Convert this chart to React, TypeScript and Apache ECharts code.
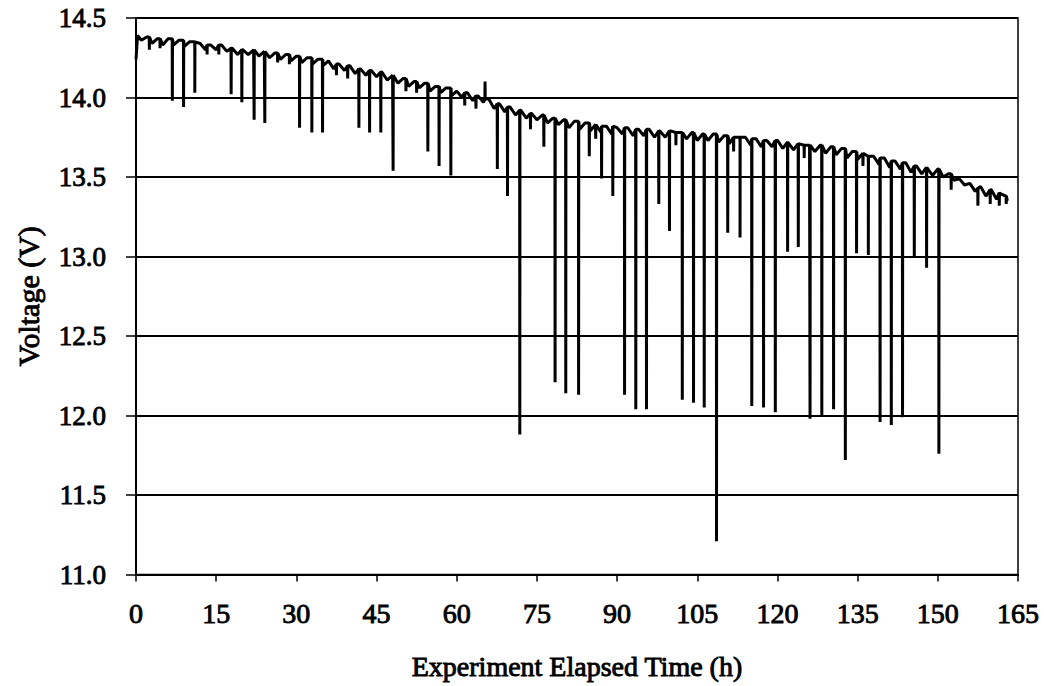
import React, { useEffect, useRef } from "react";
import * as echarts from "echarts";

// Upper trace (time h, voltage V)
const baseTimes: number[] = [
  0, 0.3, 1, 2, 3, 4, 5, 6, 7, 8, 9, 10, 11, 12, 13, 14, 15, 16, 17, 18, 19, 20,
  21, 22, 23, 24, 25, 26, 27, 28, 29, 30, 31, 32, 33, 34, 35, 36, 37, 38, 39, 40,
  41, 42, 43, 44, 45, 46, 47, 48, 49, 50, 51, 52, 53, 54, 55, 56, 57, 58, 59, 60,
  61, 62, 63, 64, 65, 66, 67, 68, 69, 70, 71, 72, 73, 74, 75, 76, 77, 78, 79, 80,
  81, 82, 83, 84, 85, 86, 87, 88, 89, 90, 91, 92, 93, 94, 95, 96, 97, 98, 99, 100,
  101, 102, 103, 104, 105, 106, 107, 108, 109, 110, 111, 112, 113, 114, 115, 116,
  117, 118, 119, 120, 121, 122, 123, 124, 125, 126, 127, 128, 129, 130, 131, 132,
  133, 134, 135, 136, 137, 138, 139, 140, 141, 142, 143, 144, 145, 146, 147, 148,
  149, 150, 151, 152, 153, 154, 155, 156, 157, 158, 159, 160, 161, 162, 163,
];
const baseVolts: number[] = [
  14.24, 14.39, 14.36, 14.38, 14.34, 14.37, 14.33, 14.37, 14.33, 14.36, 14.32, 14.35,
  14.31, 14.34, 14.30, 14.33, 14.30, 14.33, 14.29, 14.31, 14.27, 14.30, 14.27, 14.30,
  14.26, 14.29, 14.25, 14.28, 14.24, 14.27, 14.23, 14.26, 14.22, 14.25, 14.21, 14.24,
  14.20, 14.23, 14.18, 14.21, 14.17, 14.20, 14.15, 14.18, 14.14, 14.17, 14.13, 14.16,
  14.11, 14.14, 14.09, 14.12, 14.07, 14.10, 14.06, 14.09, 14.04, 14.07, 14.03, 14.06,
  14.01, 14.04, 14.00, 14.03, 13.98, 14.01, 13.97, 13.99, 13.93, 13.96, 13.91, 13.94,
  13.89, 13.92, 13.87, 13.90, 13.86, 13.89, 13.84, 13.87, 13.83, 13.86, 13.81, 13.85,
  13.80, 13.84, 13.79, 13.83, 13.78, 13.82, 13.77, 13.81, 13.77, 13.81, 13.76, 13.80,
  13.76, 13.80, 13.75, 13.79, 13.75, 13.79, 13.74, 13.78, 13.74, 13.78, 13.73, 13.77,
  13.73, 13.77, 13.72, 13.76, 13.71, 13.75, 13.71, 13.75, 13.70, 13.74, 13.69, 13.73,
  13.69, 13.73, 13.68, 13.72, 13.67, 13.71, 13.66, 13.70, 13.66, 13.70, 13.65, 13.69,
  13.64, 13.68, 13.62, 13.66, 13.61, 13.65, 13.59, 13.63, 13.58, 13.62, 13.56, 13.60,
  13.55, 13.59, 13.53, 13.57, 13.52, 13.56, 13.51, 13.55, 13.50, 13.52, 13.48, 13.49,
  13.45, 13.46, 13.41, 13.44, 13.38, 13.42, 13.36, 13.39, 13.35,
];

// Load dips: time, lowest voltage, voltage just before the dip
const spikeTimes: number[] = [
  2.5, 4.5, 6.8, 8.9, 11.0, 13.3, 15.5, 17.8, 19.8, 22.1, 24.1, 26.5, 28.7, 30.6,
  32.9, 34.9, 37.5, 39.6, 41.7, 43.7, 45.8, 48.1, 50.5, 52.5, 54.6, 56.7, 58.9,
  61.5, 63.6, 65.3, 67.6, 69.5, 71.8, 73.8, 76.3, 78.4, 80.4, 82.8, 84.8, 86.0,
  87.1, 89.2, 91.4, 93.5, 95.5, 97.8, 99.8, 101.0, 102.2, 104.3, 106.3, 108.6,
  110.7, 111.8, 113.0, 115.2, 117.4, 119.6, 121.9, 123.9, 125.0, 126.1, 128.3,
  130.5, 132.7, 134.8, 136.0, 137.0, 139.2, 141.3, 143.4, 145.6, 147.9, 150.2,
  152.5, 157.5, 159.8, 161.5, 162.8,
];
const spikeMins: number[] = [
  14.30, 14.31, 13.98, 13.94, 14.03, 14.27, 14.27, 14.02, 13.97, 13.86, 13.84, 14.22,
  14.21, 13.81, 13.78, 13.78, 14.14, 14.12, 13.81, 13.78, 13.78, 13.54, 14.04, 14.03,
  13.66, 13.57, 13.51, 13.95, 13.93, 14.10, 13.55, 13.38, 11.88, 13.80, 13.69, 12.21,
  12.14, 12.13, 13.63, 13.74, 13.49, 13.38, 12.13, 12.04, 12.04, 13.33, 13.16, 13.70,
  12.10, 12.08, 12.05, 11.21, 13.15, 13.66, 13.12, 12.06, 12.05, 12.02, 13.03, 13.06,
  13.62, 11.98, 12.00, 12.04, 11.72, 13.02, 13.57, 13.01, 11.96, 11.94, 11.99, 12.99,
  12.93, 11.76, 13.42, 13.32, 13.33, 13.32, 13.33,
];
const spikeTops: number[] = [
  14.38, 14.37, 14.37, 14.36, 14.35, 14.33, 14.33, 14.31, 14.30, 14.30, 14.29, 14.28,
  14.27, 14.26, 14.25, 14.24, 14.21, 14.20, 14.18, 14.17, 14.16, 14.14, 14.12, 14.10,
  14.09, 14.07, 14.06, 14.03, 14.01, 13.99, 13.96, 13.94, 13.92, 13.90, 13.89, 13.87,
  13.86, 13.85, 13.84, 13.83, 13.82, 13.82, 13.81, 13.80, 13.80, 13.79, 13.79, 13.78,
  13.78, 13.78, 13.77, 13.77, 13.76, 13.75, 13.75, 13.74, 13.73, 13.73, 13.72, 13.71,
  13.70, 13.70, 13.70, 13.69, 13.68, 13.66, 13.65, 13.63, 13.62, 13.60, 13.59, 13.57,
  13.56, 13.55, 13.52, 13.43, 13.42, 13.40, 13.38,
];

const xTicks = { min: 0, max: 165, interval: 15 };
const yTicks = { min: 11.0, max: 14.5, interval: 0.5 };

function buildSeries(): [number, number][] {
  const pts: [number, number][] = baseTimes.map((t, i) => [t, baseVolts[i]]);
  spikeTimes.forEach((t, i) => {
    pts.push([t - 0.03, spikeTops[i]]);
    pts.push([t, spikeMins[i]]);
    pts.push([t + 0.03, spikeTops[i]]);
  });
  pts.sort((a, b) => a[0] - b[0]);
  return pts;
}

const FONT = "'Liberation Serif', 'Times New Roman', Times, serif";
const txt = (size: number) => ({
  fontFamily: FONT,
  fontSize: size,
  fontWeight: "normal",
  color: "#000",
  textBorderColor: "#000",
  textBorderWidth: 0.9,
});

export default function App() {
  const ref = useRef<HTMLDivElement>(null);
  useEffect(() => {
    if (!ref.current) return;
    const chart = echarts.init(ref.current, undefined, { renderer: "svg" });
    chart.setOption({
      animation: false,
      backgroundColor: "#ffffff",
      grid: {
        left: 136,
        right: 26,
        top: 18,
        bottom: 108,
        show: true,
        borderColor: "#000",
        borderWidth: 1.5,
        backgroundColor: "transparent",
      },
      xAxis: {
        type: "value",
        min: xTicks.min,
        max: xTicks.max,
        interval: xTicks.interval,
        name: "Experiment Elapsed Time (h)",
        nameLocation: "middle",
        nameGap: 78,
        nameTextStyle: txt(28),
        axisLine: { show: true, onZero: false, lineStyle: { color: "#000", width: 2 } },
        axisTick: { show: true, inside: false, length: 7, lineStyle: { color: "#000", width: 1.5 } },
        axisLabel: { ...txt(28), margin: 25 },
        splitLine: { show: false },
      },
      yAxis: {
        type: "value",
        min: yTicks.min,
        max: yTicks.max,
        interval: yTicks.interval,
        name: "Voltage (V)",
        nameLocation: "middle",
        nameGap: 93,
        nameTextStyle: txt(30),
        axisLine: { show: true, lineStyle: { color: "#000", width: 2 } },
        axisTick: { show: true, inside: false, length: 10, lineStyle: { color: "#000", width: 1.5 } },
        axisLabel: {
          ...txt(27),
          margin: 30,
          formatter: (v: number) => v.toFixed(1),
        },
        splitLine: { show: true, lineStyle: { color: "#000", width: 2 } },
      },
      series: [
        {
          type: "line",
          data: buildSeries(),
          showSymbol: false,
          symbol: "none",
          lineStyle: { color: "#000", width: 3 },
          z: 5,
        },
      ],
    });
    return () => chart.dispose();
  }, []);
  return (
    <div
      ref={ref}
      style={{ position: "fixed", left: 0, top: 0, width: 1044, height: 686, background: "#fff" }}
    />
  );
}
